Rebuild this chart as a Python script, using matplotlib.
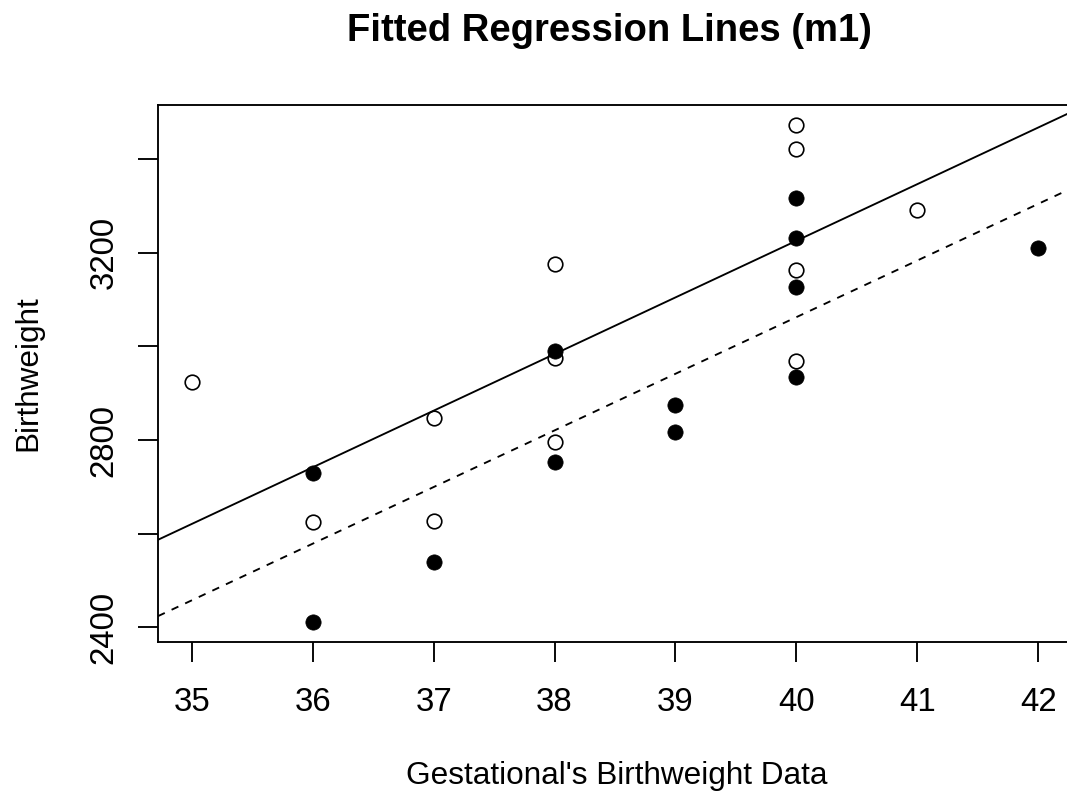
import numpy as np
import matplotlib
matplotlib.use("Agg")
from matplotlib import pyplot as plt

# birthweight data: gestational age (weeks) and weight (g)
boys_age = [40, 38, 40, 35, 36, 37, 41, 40, 37, 38, 40, 38]
boys_wt = [2968, 2795, 3163, 2925, 2625, 2847, 3292, 3473, 2628, 3176, 3421, 2975]
girls_age = [40, 36, 40, 38, 42, 39, 40, 37, 36, 38, 39, 40]
girls_wt = [3317, 2729, 2935, 2754, 3210, 2817, 3126, 2539, 2412, 2991, 2875, 3231]

x_ticks = [35, 36, 37, 38, 39, 40, 41, 42]
y_ticks = [2400, 2600, 2800, 3000, 3200, 3400]
y_tick_labels = ["2400", "", "2800", "", "3200", ""]

# m1: weight ~ age + sex (common slope, separate intercepts)
age = np.array(boys_age + girls_age, dtype=float)
wt = np.array(boys_wt + girls_wt, dtype=float)
is_girl = np.r_[np.zeros(len(boys_age)), np.ones(len(girls_age))]
X = np.column_stack([np.ones_like(age), is_girl, age])
coef = np.linalg.lstsq(X, wt, rcond=None)[0]
a_boys, d_girls, slope = coef

plt.rcParams['font.family'] = ['Liberation Sans', 'DejaVu Sans']
lw = 1.35

fig = plt.figure(figsize=(10.67, 7.95), dpi=100)
ax = fig.add_axes([158/1067, 1 - 641.7/795, (1072 - 158)/1067, (641.7 - 105)/795])

ax.plot(boys_age, boys_wt, 'o', mfc='none', mec='black', ms=10.5, mew=1.2, zorder=2)
ax.plot(girls_age, girls_wt, 'o', mfc='black', mec='black', ms=11, mew=0.5, zorder=2)

ax.axline((0, a_boys), slope=slope, color='black', lw=lw, zorder=3)
ax.axline((0, a_boys + d_girls), slope=slope, color='black', lw=lw,
          linestyle=(0, (4, 4)), zorder=3)

# R-style 4% padding
xr = max(age) - min(age)
yr = max(wt) - min(wt)
ax.set_xlim(min(age) - 0.04*xr, max(age) + 0.04*xr)
ax.set_ylim(min(wt) - 0.04*yr, max(wt) + 0.04*yr)

ax.set_xticks(x_ticks)
ax.set_xticklabels([str(v) for v in x_ticks])
ax.set_yticks(y_ticks)
ax.set_yticklabels(y_tick_labels, rotation=90, va='center')
ax.tick_params(length=14.4, width=lw, labelsize=23.8, direction='out')
ax.tick_params(axis='x', pad=18)
ax.tick_params(axis='y', pad=13.5)

for s in ax.spines.values():
    s.set_linewidth(lw)

fig.text(609/1067, 1 - 41/795, "Fitted Regression Lines (m1)", ha='center',
         va='baseline', fontsize=27.5, fontweight='bold')
fig.text(617/1067, 1 - 784/795, "Gestational's Birthweight Data", ha='center',
         va='baseline', fontsize=22.7)
fig.text(28/1067, 1 - 373/795, "Birthweight", ha='center', va='center',
         rotation=90, fontsize=22.7)

fig.savefig("out.png", dpi=100)
